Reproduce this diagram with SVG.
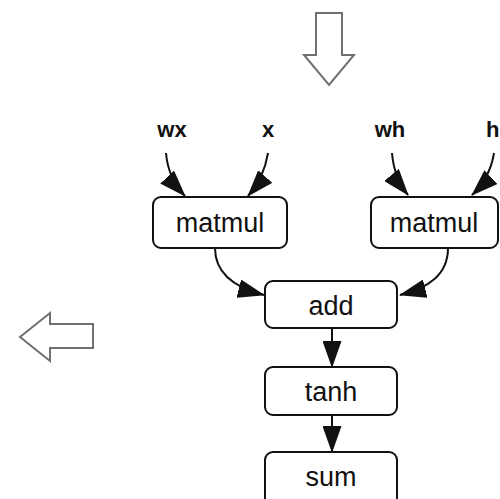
<svg xmlns="http://www.w3.org/2000/svg" width="500" height="499" viewBox="0 0 500 499">
  <style>
    .box { fill: #fff; stroke: #111; stroke-width: 2; }
    .op { font-family: "Liberation Sans", Arial, sans-serif; font-size: 27px; fill: #111; text-anchor: middle; }
    .var { font-family: "Liberation Sans", Arial, sans-serif; font-size: 22px; font-weight: bold; fill: #111; text-anchor: middle; }
    .edge { fill: none; stroke: #111; stroke-width: 2; marker-end: url(#head); }
    .hollow { fill: #fff; stroke: #707070; stroke-width: 2; stroke-linejoin: miter; }
  </style>
  <defs>
    <marker id="head" markerUnits="userSpaceOnUse" markerWidth="27" markerHeight="19" refX="26" refY="9.5" orient="auto">
      <path d="M0,0 L27,9.5 L0,19 Z" fill="#111"/>
    </marker>
  </defs>
  <rect width="500" height="499" fill="#fff"/>

  <!-- direction hints -->
  <polygon class="hollow" points="316,13 342,13 342,55 354,55 329,85 304,55 316,55"/>
  <polygon class="hollow" points="93,324 50,324 50,313 20,337 50,361 50,348 93,348"/>

  <!-- inputs -->
  <g id="in-wx"><text class="var" x="172" y="137">wx</text></g>
  <g id="in-x"><text class="var" x="268" y="137">x</text></g>
  <g id="in-wh"><text class="var" x="390" y="137">wh</text></g>
  <g id="in-h"><text class="var" x="486" y="137" style="text-anchor:start">h</text></g>

  <!-- operations -->
  <g id="matmul-1">
    <rect class="box" x="153" y="197" width="134" height="51" rx="8"/>
    <text class="op" x="220" y="232">matmul</text>
  </g>
  <g id="matmul-2">
    <rect class="box" x="371" y="197" width="127" height="51" rx="8"/>
    <text class="op" x="434" y="232">matmul</text>
  </g>
  <g id="add">
    <rect class="box" x="265" y="281" width="132" height="47" rx="8"/>
    <text class="op" x="331" y="315">add</text>
  </g>
  <g id="tanh">
    <rect class="box" x="265" y="367" width="132" height="48" rx="8"/>
    <text class="op" x="331" y="401">tanh</text>
  </g>
  <g id="sum">
    <rect class="box" x="265" y="452" width="132" height="55" rx="8"/>
    <text class="op" x="331" y="486">sum</text>
  </g>

  <!-- connectors -->
  <g id="edges">
    <path class="edge" d="M166,153 Q168,178 185,196"/>
    <path class="edge" d="M268,153 Q264,178 248,196"/>
    <path class="edge" d="M392,153 Q394,178 408,195"/>
    <path class="edge" d="M494,153 Q490,178 472,195"/>
    <path class="edge" d="M215,248 C215,275 236,288 264,295"/>
    <path class="edge" d="M448,248 C448,275 428,288 400,295"/>
    <path class="edge" d="M332,328 L332,367"/>
    <path class="edge" d="M332,415 L332,452"/>
  </g>
</svg>
